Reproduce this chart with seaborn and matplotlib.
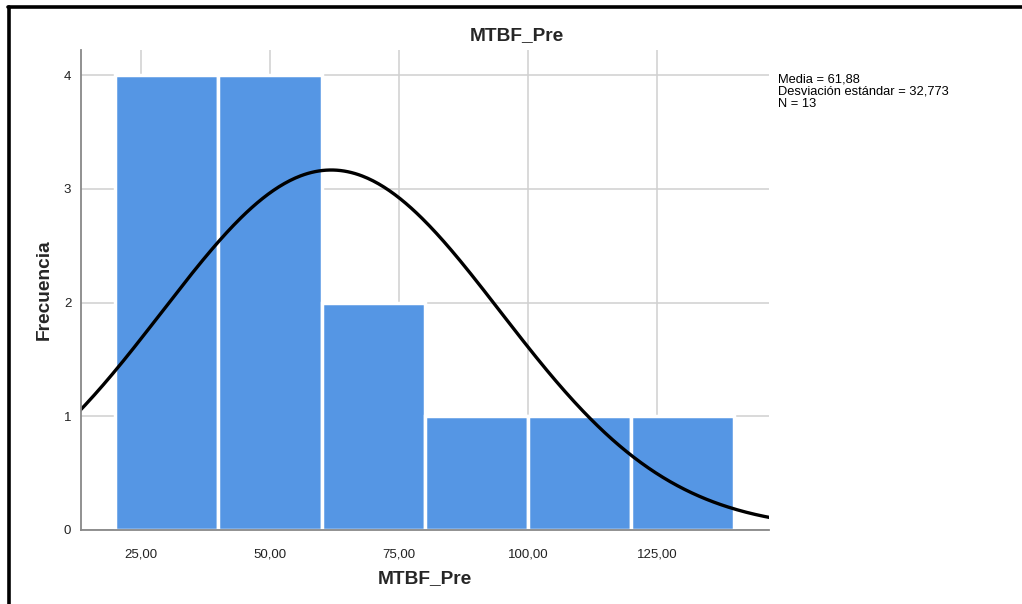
import numpy as np
import pandas as pd
import matplotlib
matplotlib.use('Agg')
import matplotlib.pyplot as plt
import seaborn as sns
from matplotlib.lines import Line2D
from matplotlib.ticker import FuncFormatter

# histogram bins and counts
bin_edges = [20, 40, 60, 80, 100, 120, 140]
counts = [4, 4, 2, 1, 1, 1]
media = 61.88
desv = 32.773
n_total = 13

x_ticks = [25, 50, 75, 100, 125]
y_ticks = [0, 1, 2, 3, 4]

centers = [(a + b) / 2 for a, b in zip(bin_edges[:-1], bin_edges[1:])]
df = pd.DataFrame({'MTBF_Pre': centers, 'n': counts})

sns.set_style('white')
plt.rcParams['font.family'] = ['Liberation Sans', 'DejaVu Sans']

fig = plt.figure(figsize=(10.22, 6.04), dpi=100)
ax = fig.add_axes([81 / 1022, 1 - 530 / 604, 688 / 1022, 480 / 604])

ax.set_axisbelow(True)
ax.grid(True, color='#d0d0d0', linewidth=1.1)

sns.histplot(data=df, x='MTBF_Pre', weights='n', bins=bin_edges, ax=ax,
             color='#5596e4', alpha=1, edgecolor='white', linewidth=2.5)

# normal curve scaled to counts
bw = bin_edges[1] - bin_edges[0]
xs = np.linspace(10, 150, 400)
ys = n_total * bw * np.exp(-0.5 * ((xs - media) / desv) ** 2) / (desv * np.sqrt(2 * np.pi))
sns.lineplot(x=xs, y=ys, ax=ax, color='black', linewidth=2.4)

ax.set_xlim(13.4, 146.7)
ax.set_ylim(0, 4.22)
ax.set_xticks(x_ticks)
ax.set_yticks(y_ticks)
ax.xaxis.set_major_formatter(FuncFormatter(lambda v, p: f'{v:.2f}'.replace('.', ',')))
ax.tick_params(axis='both', length=0, labelsize=9.5, colors='#222222')
ax.tick_params(axis='x', pad=13)
ax.tick_params(axis='y', pad=7)

for s in ['top', 'right']:
    ax.spines[s].set_visible(False)
for s in ['left', 'bottom']:
    ax.spines[s].set_color('#888888')
    ax.spines[s].set_linewidth(1.3)

ax.set_xlabel('MTBF_Pre', fontsize=13.8, fontweight='bold', labelpad=7)
ax.set_ylabel('Frecuencia', fontsize=13.8, fontweight='bold', labelpad=8)

fig.text(517 / 1022, 1 - 36 / 604, 'MTBF_Pre', ha='center', va='center',
         fontsize=13.8, fontweight='bold')
fig.text(778 / 1022, 1 - 74 / 604,
         f'Media = {media:.2f}'.replace('.', ',') + '\n'
         + f'Desviación estándar = {desv:.3f}'.replace('.', ',') + '\n'
         + f'N = {n_total}',
         ha='left', va='top', fontsize=9.3, linespacing=1.0, color='black')

# black frame at left and top
fig.add_artist(Line2D([9 / 1022, 9 / 1022], [0, 1 - 7 / 604], color='black',
                      linewidth=2.6, transform=fig.transFigure))
fig.add_artist(Line2D([8 / 1022, 1], [1 - 7 / 604, 1 - 7 / 604], color='black',
                      linewidth=2.6, transform=fig.transFigure))

fig.savefig('out.png', dpi=100)
